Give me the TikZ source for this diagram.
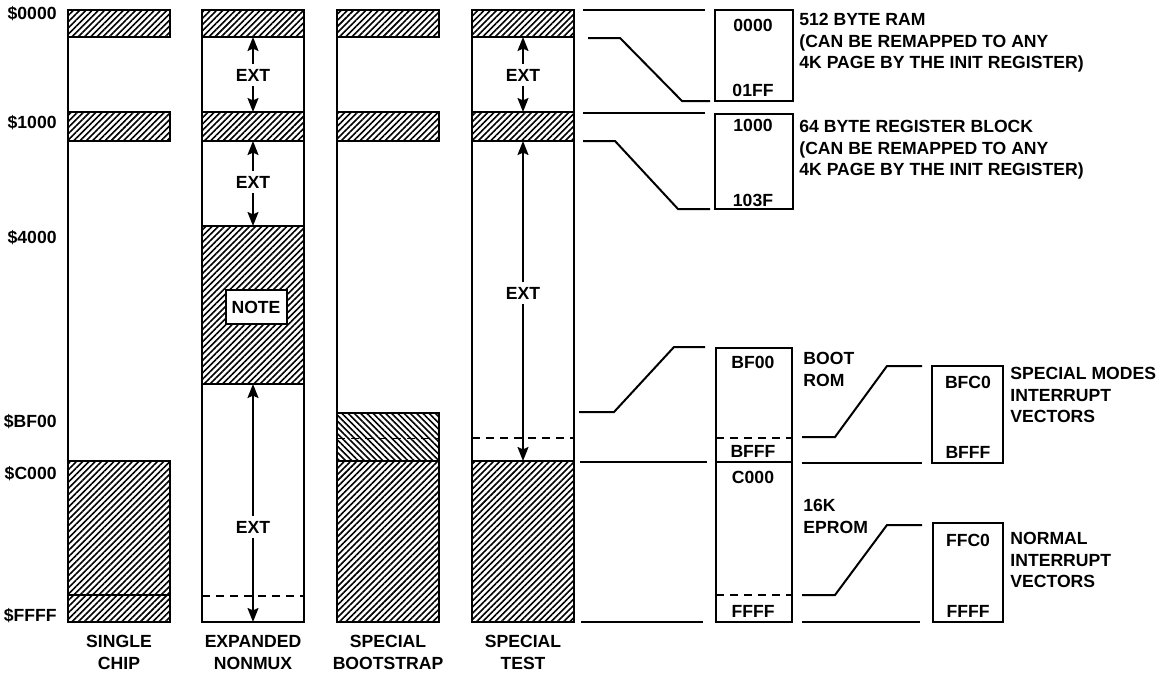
\documentclass[tikz,border=0pt]{standalone}
\usepackage{fontspec}
\setmainfont{Liberation Sans}
\usetikzlibrary{arrows.meta,patterns.meta}

\begin{document}
\begin{tikzpicture}[x=0.5pt, y=-0.5pt, font=\fontsize{8.8}{10.8}\selectfont\bfseries]
    \tikzset{memcol/.style={line width=1.4pt}}
    \tikzset{hatch/.style={pattern={Lines[angle=45,distance=2.2pt,line width=0.8pt]}}}
    \tikzset{backhatch/.style={pattern={Lines[angle=-45,distance=2.2pt,line width=0.8pt]}}}
    \tikzset{extarrow/.style={-{Stealth[length=7pt,width=5.5pt,inset=1.2pt]}, line width=0.9pt}}
    \tikzset{divider/.style={dash pattern=on 4pt off 3pt, line width=0.8pt}}
    \tikzset{callout/.style={line width=1pt}}
    \tikzset{mapbox/.style={line width=1.2pt}}
    \tikzset{lbl/.style={inner sep=0pt}}
    \tikzset{remark/.style={inner sep=0pt, anchor=north west, align=left}}

    \useasboundingbox (0,0) rectangle (1161,675);

    % Address labels
    \node[lbl, anchor=east] (a0000) at (57,14)  {\$0000};
    \node[lbl, anchor=east] (a1000) at (57,123) {\$1000};
    \node[lbl, anchor=east] (a4000) at (57,238) {\$4000};
    \node[lbl, anchor=east] (aBF00) at (57,422) {\$BF00};
    \node[lbl, anchor=east] (aC000) at (57,474) {\$C000};
    \node[lbl, anchor=east] (aFFFF) at (57,616) {\$FFFF};

    % Outlines
    \foreach \x in {68,337}{
      \draw[memcol] (\x,10) -- (\x,622);
    }
    \draw[memcol] (202,10) rectangle (304,622);
    \draw[memcol] (472,10) rectangle (574,622);

    % RAM and register blocks in every mode
    \foreach \x in {68,202,337,472}{
      \draw[memcol,hatch] (\x,10) rectangle ++(102,27);
      \draw[memcol,hatch] (\x,112) rectangle ++(102,29);
    }

    % Single chip
    \draw[memcol,hatch] (68,461) rectangle (170,622);
    \draw[memcol] (68,595) -- (170,595);

    % Expanded nonmux
    \draw[memcol,hatch] (202,226) rectangle (304,384);
    \node[draw, fill=white, line width=1pt, minimum width=30.5pt, minimum height=17pt,
          inner sep=0pt] (note) at (256,307) {NOTE};
    \draw[divider] (202,596) -- (304,596);

    % Special bootstrap
    \draw[memcol,backhatch] (337,413) rectangle (439,461);
    \draw[divider, line width=0.5pt] (337,438) -- (439,438);
    \draw[memcol,hatch] (337,461) rectangle (439,622);

    % Special test
    \draw[memcol,hatch] (472,461) rectangle (574,622);
    \draw[divider] (472,438) -- (574,438);

    % EXT arrows
    \node[lbl] (extEN1) at (253,75)  {EXT};
    \node[lbl] (extEN2) at (253,182) {EXT};
    \node[lbl] (extEN3) at (253,527) {EXT};
    \node[lbl] (extST1) at (523,75)  {EXT};
    \node[lbl] (extST2) at (523,293) {EXT};
    \coordinate (en1t) at (253,37);  \coordinate (en1b) at (253,112);
    \coordinate (en2t) at (253,141); \coordinate (en2b) at (253,226);
    \coordinate (en3t) at (253,384); \coordinate (en3b) at (253,622);
    \coordinate (st1t) at (523,37);  \coordinate (st1b) at (523,112);
    \coordinate (st2t) at (523,141); \coordinate (st2b) at (523,461);
    \foreach \lab/\hi/\lo in {extEN1/en1t/en1b, extEN2/en2t/en2b, extEN3/en3t/en3b,
                              extST1/st1t/st1b, extST2/st2t/st2b}{
      \draw[extarrow, shorten <=2.5pt] (\lab.north) -- (\hi);
      \draw[extarrow, shorten <=2.5pt] (\lab.south) -- (\lo);
    }

    % Mode names
    \foreach \x/\txt/\nm in {119/{SINGLE\\CHIP}/msc, 253/{EXPANDED\\NONMUX}/men,
                             388/{SPECIAL\\BOOTSTRAP}/msb, 523/{SPECIAL\\TEST}/mst}{
      \node[lbl, anchor=north, align=center] (\nm) at (\x,635) {\txt};
    }

    % RAM detail
    \draw[callout] (583,10) -- (705,10);
    \draw[callout] (588,38) -- (620,38) -- (682,101) -- (710,101);
    \draw[mapbox] (715,10) rectangle (793,101);
    \node[lbl] (ramlo) at (753,25) {0000};
    \node[lbl] (ramhi) at (753,90) {01FF};
    \node[remark] (ramtxt) at (799,13)
      {512 BYTE RAM\\(CAN BE REMAPPED TO ANY\\4K PAGE BY THE INIT REGISTER)};

    % Register block detail
    \draw[callout] (583,113) -- (705,113);
    \draw[callout] (583,141) -- (615,141) -- (678,209) -- (710,209);
    \draw[mapbox] (715,114) rectangle (793,209);
    \node[lbl] (reglo) at (753,125) {1000};
    \node[lbl] (reghi) at (753,200) {103F};
    \node[remark] (regtxt) at (799,120)
      {64 BYTE REGISTER BLOCK\\(CAN BE REMAPPED TO ANY\\4K PAGE BY THE INIT REGISTER)};

    % Boot ROM and EPROM detail
    \draw[callout] (579,412) -- (614,412) -- (674,347) -- (705,347);
    \draw[callout] (580,462) -- (707,462);
    \draw[callout] (581,622) -- (703,622);
    \draw[mapbox] (716,348) rectangle (792,622);
    \draw[mapbox] (716,462) -- (792,462);
    \draw[divider] (716,438) -- (792,438);
    \draw[divider] (716,595) -- (792,595);
    \node[lbl] (bootlo) at (753,362) {BF00};
    \node[lbl] (boothi) at (753,451) {BFFF};
    \node[lbl] (promlo) at (753,477) {C000};
    \node[lbl] (promhi) at (753,611) {FFFF};
    \node[remark] (boottxt) at (803,352) {BOOT\\ROM};
    \node[remark] (promtxt) at (803,499) {16K\\EPROM};

    % Vector details
    \draw[callout] (802,437) -- (835,437) -- (887,366) -- (922,366);
    \draw[callout] (802,463) -- (922,463);
    \draw[mapbox] (932,366) rectangle (1003,463);
    \node[lbl] (spvlo) at (968,382) {BFC0};
    \node[lbl] (spvhi) at (968,452) {BFFF};
    \node[remark] (spvtxt) at (1010,367) {SPECIAL MODES\\INTERRUPT\\VECTORS};

    \draw[callout] (802,595) -- (835,595) -- (887,525) -- (922,525);
    \draw[callout] (802,622) -- (920,622);
    \draw[mapbox] (933,523) rectangle (1003,622);
    \node[lbl] (nvlo) at (968,540) {FFC0};
    \node[lbl] (nvhi) at (968,611) {FFFF};
    \node[remark] (nvtxt) at (1010,532) {NORMAL\\INTERRUPT\\VECTORS};
\end{tikzpicture}
\end{document}
